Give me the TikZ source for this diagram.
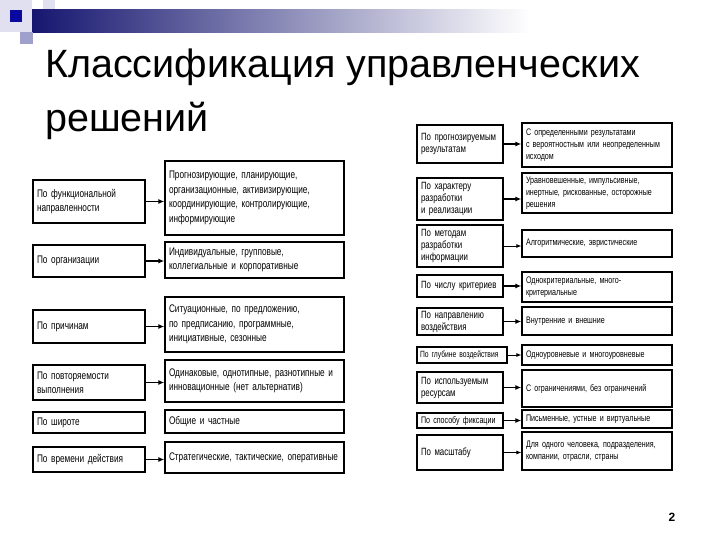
\documentclass[tikz,border=0pt]{standalone}
\usepackage{fontspec}
\setmainfont{Liberation Sans}
\newfontfamily\krnarrow[FakeStretch=0.75,WordSpace=0.75]{Liberation Sans}
\usetikzlibrary{arrows.meta}
\definecolor{KrNavy}{RGB}{22,22,112}
\definecolor{KrBlue}{RGB}{10,10,160}
\definecolor{KrLavender}{RGB}{160,160,205}
\definecolor{KrPale}{RGB}{224,224,240}
\tikzset{
  kr/box/.style={
    draw=black,
    line width=1.3pt,
    fill=white,
    align=left,
    text=black,
    inner xsep=4pt,
    inner ysep=2pt
  },
  kr/label/.style={kr/box, text width=104pt, font=\krnarrow\fontsize{11}{14}\selectfont},
  kr/value/.style={kr/box, text width=171pt, font=\krnarrow\fontsize{11}{14.5}\selectfont},
  kr/rlabel/.style={kr/box, text width=78pt, font=\krnarrow\fontsize{10.5}{12}\selectfont},
  kr/rvalue/.style={kr/box, text width=142pt, font=\krnarrow\fontsize{9.5}{12}\selectfont},
  kr/arrow/.style={-{Latex[length=6pt,width=5pt]}, line width=1.8pt},
  kr/thinarrow/.style={-{Latex[length=5pt,width=4pt]}, line width=0.8pt},
  kr/title/.style={font=\fontsize{39.5}{46}\selectfont, anchor=base west, inner sep=0pt}
}

\begin{document}
\begin{tikzpicture}[x=1pt,y=-1pt]
  \useasboundingbox (0,0) rectangle (720,540);
  % slide decoration
  \fill[KrPale] (0,0) rectangle (32,32);
  \fill[KrPale] (43,0) rectangle (55,13);
  \shade[left color=KrNavy, right color=white] (32,10) rectangle (530,33);
  \fill[KrLavender] (20,32) rectangle (33,44);
  \fill[KrBlue] (10,10) rectangle (22,22);
  \node[kr/title] (title) at (45,78) {Классификация управленческих};
  \node[kr/title] (title2) at (45,132) {решений};
  % left column
  \node[kr/label,minimum height=43pt] (l1) at (89,201.5) {По функциональной\\направленности};
  \node[kr/label,minimum height=32pt] (l2) at (89,261) {По организации};
  \node[kr/label,minimum height=33pt] (l3) at (89,326.5) {По причинам};
  \node[kr/label,minimum height=35pt] (l4) at (89,382.5) {По повторяемости\\выполнения};
  \node[kr/label,minimum height=21pt] (l5) at (89,422.5) {По широте};
  \node[kr/label,minimum height=25pt] (l6) at (89,459.5) {По времени действия};
  \node[kr/value,minimum height=74pt] (v1) at (254.5,198) {Прогнозирующие, планирующие,\\организационные, активизирующие,\\координирующие, контролирующие,\\информирующие};
  \node[kr/value,minimum height=36pt] (v2) at (254.5,260) {Индивидуальные, групповые,\\коллегиальные и корпоративные};
  \node[kr/value,minimum height=55pt] (v3) at (254.5,324.5) {Ситуационные, по предложению,\\по предписанию, программные,\\инициативные, сезонные};
  \node[kr/value,minimum height=42pt] (v4) at (254.5,381) {Одинаковые, однотипные, разнотипные и\\инновационные (нет альтернатив)};
  \node[kr/value,minimum height=23pt] (v5) at (254.5,421.5) {Общие и частные};
  \node[kr/value,minimum height=31pt] (v6) at (254.5,457.5) {Стратегические, тактические, оперативные};
  \draw[kr/arrow] (l1.east) -- (l1.east -| v1.west);
  \draw[kr/arrow] (l2.east) -- (l2.east -| v2.west);
  \draw[kr/arrow] (l3.east) -- (l3.east -| v3.west);
  \draw[kr/arrow] (l4.east) -- (l4.east -| v4.west);
  \draw[kr/arrow] (l6.east) -- (l6.east -| v6.west);
  % right column
  \node[kr/rlabel,minimum height=38pt] (r1) at (460,144) {По прогнозируемым\\результатам};
  \node[kr/rlabel,minimum height=42pt] (r2) at (460,199) {По характеру\\разработки\\и реализации};
  \node[kr/rlabel,minimum height=42pt] (r3) at (460,246) {По методам\\разработки\\информации};
  \node[kr/rlabel,minimum height=22pt] (r4) at (460,286) {По числу критериев};
  \node[kr/rlabel,minimum height=27pt] (r5) at (460,321.5) {По направлению\\воздействия};
  \node[kr/rlabel,minimum height=16pt,text width=84pt,inner xsep=3pt,font=\krnarrow\fontsize{9}{11}\selectfont] (r6) at (462,355) {По глубине воздействия};
  \node[kr/rlabel,minimum height=31pt] (r7) at (460,387.5) {По используемым\\ресурсам};
  \node[kr/rlabel,minimum height=15pt,font=\krnarrow\fontsize{9.5}{11}\selectfont] (r8) at (460,420.5) {По способу фиксации};
  \node[kr/rlabel,minimum height=35pt] (r9) at (460,452.5) {По масштабу};
  \node[kr/rvalue,minimum height=44pt] (w1) at (597,145) {С определенными результатами\\с вероятностным или неопределенным\\исходом};
  \node[kr/rvalue,minimum height=40pt] (w2) at (597,193) {Уравновешенные, импульсивные,\\инертные, рискованные, осторожные\\решения};
  \node[kr/rvalue,minimum height=27pt] (w3) at (597,243.5) {Алгоритмические, эвристические};
  \node[kr/rvalue,minimum height=30pt] (w4) at (597,287) {Однокритериальные, много-\\критериальные};
  \node[kr/rvalue,minimum height=28pt] (w5) at (597,321) {Внутренние и внешние};
  \node[kr/rvalue,minimum height=20pt] (w6) at (597,355) {Одноуровневые и многоуровневые};
  \node[kr/rvalue,minimum height=37pt] (w7) at (597,388.5) {С ограничениями, без ограничений};
  \node[kr/rvalue,minimum height=18pt] (w8) at (597,419) {Письменные, устные и виртуальные};
  \node[kr/rvalue,minimum height=38pt] (w9) at (597,451) {Для одного человека, подразделения,\\компании, отрасли, страны};
  \draw[kr/arrow] (r1.east) -- (r1.east -| w1.west);
  \draw[kr/arrow] (r2.east) -- (r2.east -| w2.west);
  \draw[kr/thinarrow] (r3.east) -- (r3.east -| w3.west);
  \draw[kr/arrow] (r4.east) -- (r4.east -| w4.west);
  \draw[kr/arrow] (r5.east) -- (r5.east -| w5.west);
  \draw[kr/thinarrow] (r6.east) -- (r6.east -| w6.west);
  \draw[kr/arrow] (r7.east) -- (r7.east -| w7.west);
  \draw[kr/arrow] (r8.east) -- (r8.east -| w8.west);
  \draw[kr/thinarrow] (r9.east) -- (r9.east -| w9.west);
  \node[font=\bfseries\fontsize{12}{12}\selectfont] (pagenum) at (672,517) {2};
\end{tikzpicture}
\end{document}
